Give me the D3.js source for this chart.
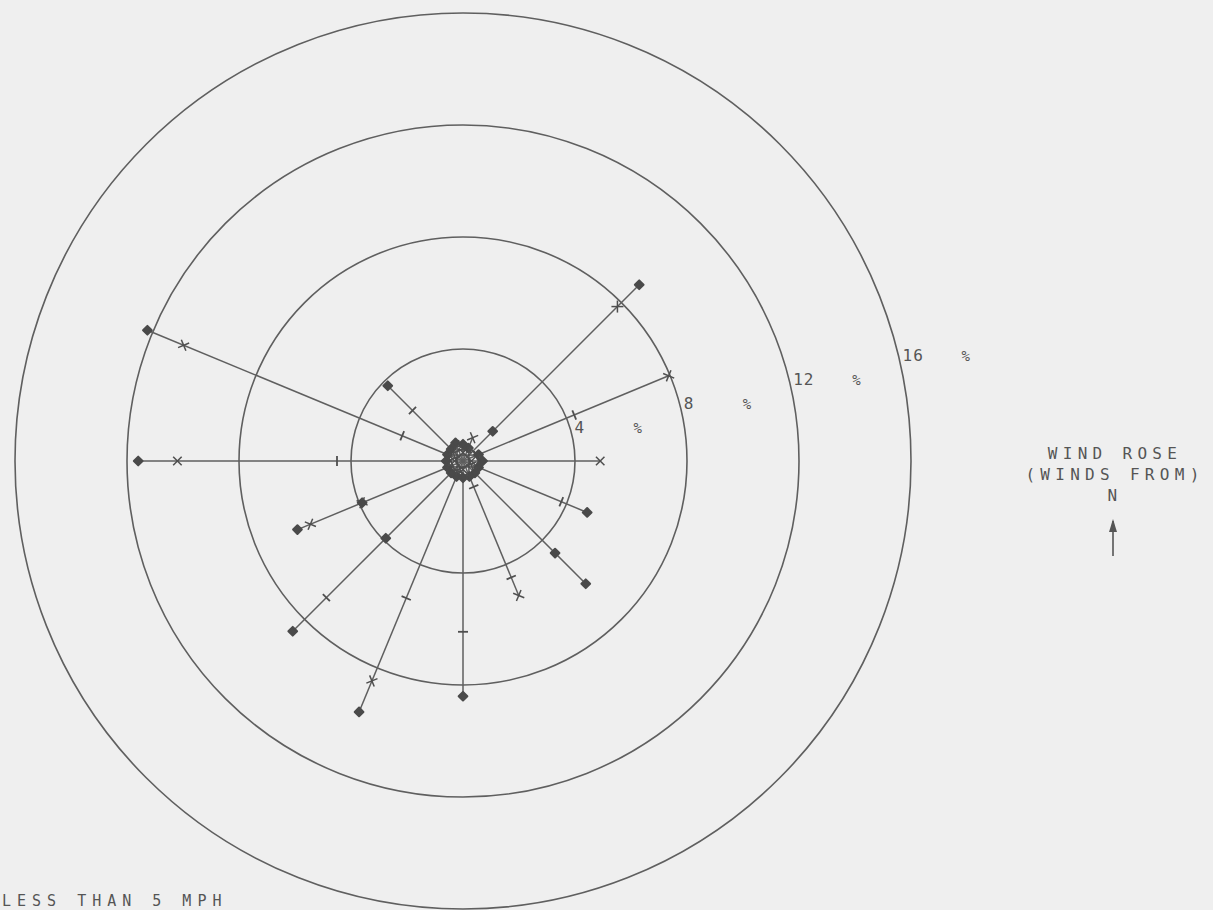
<!DOCTYPE html>
<html><head><meta charset="utf-8">
<script src="https://cdn.jsdelivr.net/npm/d3@7"></script>
<style>
html,body{margin:0;padding:0;background:#efefef;overflow:hidden;}
svg{display:block;}
</style></head><body>
<svg id="c" width="1213" height="910"></svg>
<script>
// ---- data ----
const directions = ["N","NNE","NE","ENE","E","ESE","SE","SSE","S","SSW","SW","WSW","W","WNW","NW","NNW"];
const ringValues = [4, 8, 12, 16];
const ringLabels = ["4", "8", "12", "16"];
// cumulative frequency (%) at which each marker sits along a direction's ray
const plusMarks    = [[0.4],[0.4],[0.5],[0.5,4.3],[0.6],[0.5,3.8],[0.5],[1.0,4.5],[0.5,6.1],[0.4,5.3],[0.5,6.9],[0.4],[0.5,4.5],[0.5,2.35],[0.5,2.55],[0.4]];
const crossMarks   = [[0.3],[0.9],[0.3,7.8],[7.95],[0.3,4.9],[0.3],[0.3],[5.2],[0.3],[0.3,8.5],[0.3],[3.9,5.9],[0.3,10.2],[0.3,10.8],[0.3],[0.6]];
const diamondMarks = [[0.6],[0.5],[1.5,8.9],[0.6],[0.7],[0.6,4.8],[0.6,4.65,6.2],[0.6],[0.6,8.4],[0.6,9.7],[0.6,3.9,8.6],[0.6,3.9,6.4],[0.6,11.6],[0.6,12.2],[0.6,3.8],[0.7]];
const titleLines = ["WIND ROSE", "(WINDS FROM)", "N"];
const footText = "LESS THAN  5  MPH";

// ---- layout ----
const svg = d3.select("#c");
const cx = 463, cy = 461;
const r = d3.scaleLinear().domain([0, 16]).range([0, 448]);
const ang = d3.scaleLinear().domain([0, directions.length]).range([0, 2 * Math.PI]);
const ink = "#5f5f5f";
const pt = (i, v) => [cx + r(v) * Math.sin(ang(i)), cy - r(v) * Math.cos(ang(i))];

const g = svg.append("g");

// rings
g.selectAll("circle.ring").data(ringValues).join("circle")
  .attr("class", "ring")
  .attr("cx", cx).attr("cy", cy).attr("r", d => r(d))
  .attr("fill", "none").attr("stroke", ink).attr("stroke-width", 1.6);

// ring labels
const font = "'DejaVu Sans Mono', 'Liberation Mono', monospace";
ringValues.forEach((v, k) => {
  const dy = r(v) * 0.215 + 4;
  const x = cx + Math.sqrt(r(v) * r(v) - dy * dy) + 3;
  const y = cy - dy;
  g.append("text").attr("x", x).attr("y", y).text(ringLabels[k])
    .attr("font-family", font).attr("font-size", 16).attr("fill", "#555")
    .attr("letter-spacing", 1);
  g.append("text").attr("x", x + 59).attr("y", y).text("%")
    .attr("font-family", font).attr("font-size", 14).attr("fill", "#555");
});

// rays
const rayMax = directions.map((d, i) => d3.max([...plusMarks[i], ...crossMarks[i], ...diamondMarks[i]]) || 0);
g.selectAll("line.ray").data(directions).join("line")
  .attr("class", "ray")
  .attr("x1", cx).attr("y1", cy)
  .attr("x2", (d, i) => pt(i, rayMax[i])[0])
  .attr("y2", (d, i) => pt(i, rayMax[i])[1])
  .attr("stroke", ink).attr("stroke-width", 1.5);

// markers
const mk = g.append("g").attr("stroke", "#4e4e4e").attr("fill", "#4e4e4e");
directions.forEach((d, i) => {
  const a = ang(i) * 180 / Math.PI;
  plusMarks[i].forEach(v => {
    const [x, y] = pt(i, v);
    mk.append("line").attr("x1", -5).attr("x2", 5).attr("y1", 0).attr("y2", 0)
      .attr("transform", `translate(${x},${y}) rotate(${a})`).attr("stroke-width", 1.8);
  });
  crossMarks[i].forEach(v => {
    const [x, y] = pt(i, v);
    const s = 6;
    const grp = mk.append("g").attr("transform", `translate(${x},${y}) rotate(${a + 45})`);
    grp.append("line").attr("x1", -s).attr("x2", s).attr("y1", 0).attr("y2", 0).attr("stroke-width", 1.5);
    grp.append("line").attr("y1", -s).attr("y2", s).attr("x1", 0).attr("x2", 0).attr("stroke-width", 1.5);
  });
  diamondMarks[i].forEach(v => {
    const [x, y] = pt(i, v);
    mk.append("path").attr("d", d3.symbol(d3.symbolSquare, 38)())
      .attr("transform", `translate(${x},${y}) rotate(45)`)
      .attr("fill", "#4a4a4a").attr("stroke", "#4a4a4a").attr("stroke-width", 2)
      .attr("stroke-linejoin", "round");
  });
});

// title block
const tx = 1115;
[447, 468, 489].forEach((y, k) => {
  svg.append("text").attr("x", tx).attr("y", y + 12).attr("text-anchor", "middle")
    .text(titleLines[k]).attr("font-family", font).attr("font-size", 16)
    .attr("letter-spacing", 5.3).attr("fill", "#555");
});
// north arrow
svg.append("line").attr("x1", tx - 2).attr("x2", tx - 2).attr("y1", 556).attr("y2", 521)
  .attr("stroke", "#555").attr("stroke-width", 1.6);
svg.append("path").attr("d", `M${tx - 2},519 L${tx - 6},532 L${tx + 2},532 Z`)
  .attr("fill", "#555");

// footer at bottom edge
svg.append("text").attr("x", 2).attr("y", 906).text(footText)
  .attr("font-family", font).attr("font-size", 15).attr("letter-spacing", 6)
  .attr("fill", "#555");
</script>
</body></html>
